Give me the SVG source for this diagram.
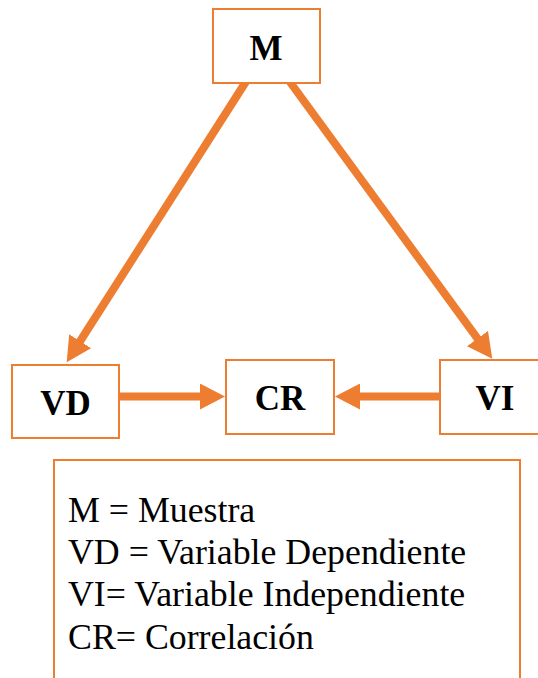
<svg xmlns="http://www.w3.org/2000/svg" width="538" height="678" viewBox="0 0 538 678">
<style>
  .box { fill: #FFFFFF; stroke: #ED7D31; stroke-width: 2; }
  .lbl { font-family: "Liberation Serif", "Times New Roman", "DejaVu Serif", serif; font-size: 35px; font-weight: bold; fill: #000000; text-anchor: middle; }
  .leg { font-family: "Liberation Serif", "Times New Roman", "DejaVu Serif", serif; font-size: 35.8px; fill: #000000; }
  .conn { stroke: #ED7D31; stroke-width: 8; fill: none; marker-end: url(#head); }
</style>
<defs>
  <marker id="head" markerUnits="userSpaceOnUse" markerWidth="26" markerHeight="26" viewBox="0 0 26 26" refX="1" refY="13" orient="auto">
    <path d="M0,0 L25,13 L0,26 Z" fill="#ED7D31"/>
  </marker>
</defs>
<rect width="538" height="678" fill="#FFFFFF"/>
<g id="connectors">
  <line class="conn" x1="247" y1="80" x2="79.6" y2="342"/>
  <line class="conn" x1="288.5" y1="80" x2="478.1" y2="339.4"/>
  <line class="conn" x1="118" y1="396.5" x2="201" y2="396.5"/>
  <line class="conn" x1="441" y1="396.5" x2="359" y2="396.5"/>
</g>
<g id="node-M">
  <rect class="box" x="213" y="9" width="107" height="74"/>
  <text class="lbl" x="266" y="60">M</text>
</g>
<g id="node-VD">
  <rect class="box" x="12" y="365" width="107" height="73"/>
  <text class="lbl" x="65.5" y="415">VD</text>
</g>
<g id="node-CR">
  <rect class="box" x="226" y="360" width="108" height="74"/>
  <text class="lbl" x="280" y="410">CR</text>
</g>
<g id="node-VI">
  <rect class="box" x="440" y="360" width="100" height="74"/>
  <text class="lbl" x="495" y="410">VI</text>
</g>
<g id="legend">
  <rect class="box" x="54" y="460" width="466" height="222"/>
  <text class="leg" x="68" y="522">M = Muestra</text>
  <text class="leg" x="68" y="564">VD = Variable Dependiente</text>
  <text class="leg" x="68" y="606">VI= Variable Independiente</text>
  <text class="leg" x="68" y="649">CR= Correlación</text>
</g>
</svg>
